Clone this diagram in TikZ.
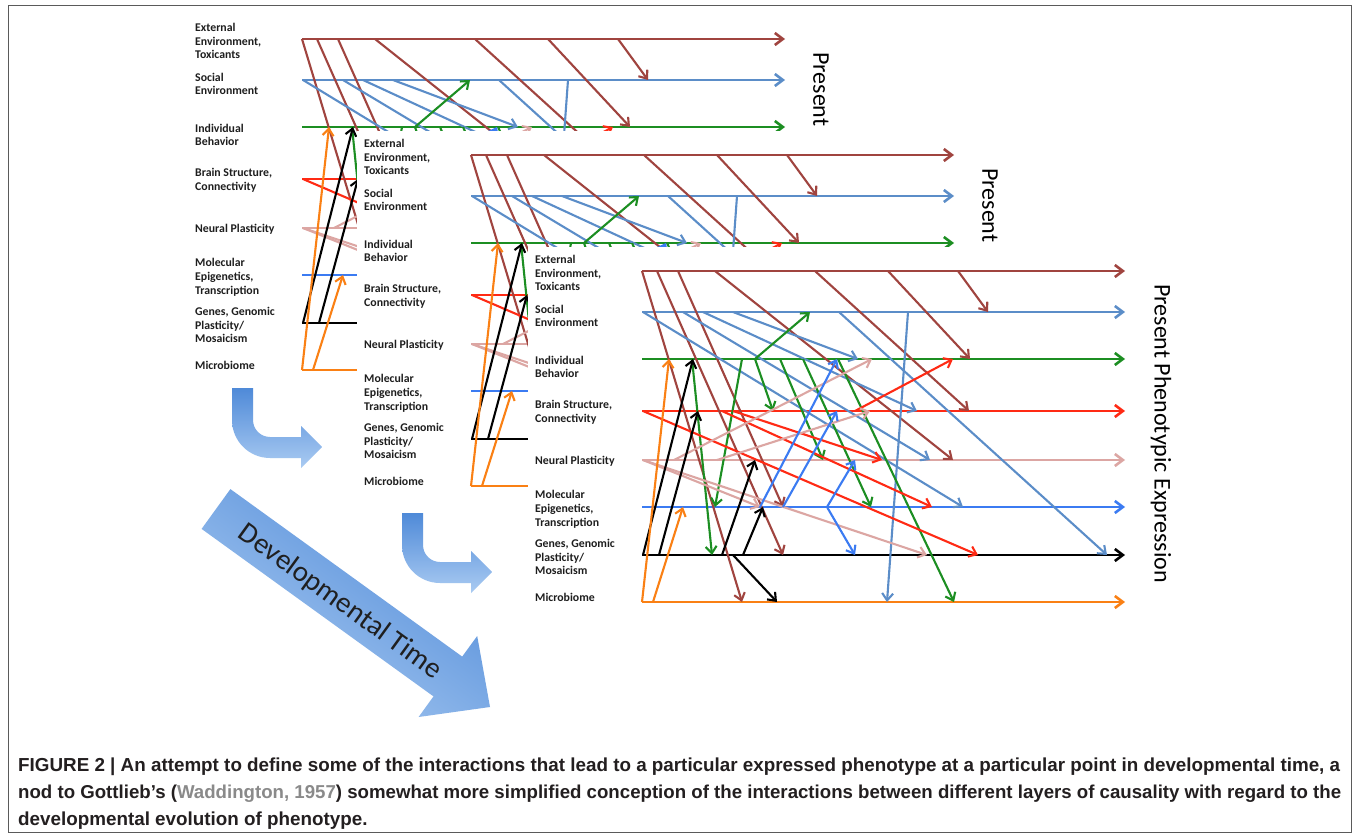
\documentclass[tikz,border=0pt]{standalone}
\usepackage{fontspec}
\setmainfont{Carlito}
\newfontfamily\capfam{Liberation Sans}
\usetikzlibrary{arrows.meta}
\newlength\capw
\newlength\capwb
\newcounter{lk}
\definecolor{cbrown}{HTML}{A0443F}
\definecolor{csoc}{HTML}{5B8DC8}
\definecolor{cgreen}{HTML}{1C8E22}
\definecolor{cred}{HTML}{FF2A14}
\definecolor{cpink}{HTML}{DCA6A3}
\definecolor{cmol}{HTML}{3B7BF2}
\definecolor{cblk}{HTML}{000000}
\definecolor{corange}{HTML}{FA8014}
\definecolor{arrA}{HTML}{4F8AD8}
\definecolor{arrB}{HTML}{AACBF2}
\definecolor{captxt}{HTML}{231F20}
\definecolor{capref}{HTML}{8A8A8A}
\definecolor{lbl}{HTML}{1E1E1E}
\definecolor{framec}{HTML}{5A5A5A}

\tikzset{
  rowline/.style={line width=2.6pt, -{Straight Barb[length=8pt,width=12pt]}},
  conn/.style={line width=2.1pt, -{Straight Barb[length=7pt,width=11pt]}},
  lab/.style={anchor=west, inner sep=0pt, align=left, text=lbl,
    font=\fontsize{11.8}{13.8}\selectfont\bfseries},
  pres/.style={anchor=west, rotate=-90, inner sep=0pt,
    font=\fontsize{24}{28}\selectfont},
  capline/.style={anchor=west, inner sep=0pt, text=captxt},
}

\newcommand\lnk[5]{\stepcounter{lk}%
  \coordinate (s\arabic{lk}) at (#2,#3);%
  \coordinate (e\arabic{lk}) at (#4,#5);%
  \draw[conn,#1] (s\arabic{lk}) -- (e\arabic{lk});}

\newcommand\trk[4]{% prefix, name, y, colour
  \coordinate (#1#2a) at (0,#3);%
  \coordinate (#1#2b) at (483,#3);%
  \draw[rowline,#4] (#1#2a) -- (#1#2b);}

\newcommand\panel[4]{%
\begin{scope}[shift={(#1,#2)}]
  \node[lab] (#3ext) at (-107,2) {External\\Environment,\\Toxicants};
  \node[lab] (#3soc) at (-107,45) {Social\\Environment};
  \node[lab] (#3ind) at (-107,96) {Individual\\Behavior};
  \node[lab] (#3brn) at (-107,141) {Brain Structure,\\Connectivity};
  \node[lab] (#3neu) at (-107,190) {Neural Plasticity};
  \node[lab] (#3mol) at (-107,238) {Molecular\\Epigenetics,\\Transcription};
  \node[lab] (#3gen) at (-107,286) {Genes, Genomic\\Plasticity/\\Mosaicism};
  \node[lab] (#3mic) at (-107,326) {Microbiome};
  \trk{#3}{r0}{0}{cbrown}
  \trk{#3}{r1}{41}{csoc}
  \trk{#3}{r2}{88}{cgreen}
  \trk{#3}{r3}{140}{cred}
  \trk{#3}{r4}{189}{cpink}
  \trk{#3}{r5}{236}{cmol}
  \trk{#3}{r6}{284}{cblk}
  \trk{#3}{r7}{331}{corange}
  % brown
  \lnk{cbrown}{0}{0}{100}{331}
  \lnk{cbrown}{15}{0}{141}{284}
  \lnk{cbrown}{36}{0}{141}{236}
  \lnk{cbrown}{73}{0}{311}{189}
  \lnk{cbrown}{173}{0}{327}{140}
  \lnk{cbrown}{246}{0}{328}{88}
  \lnk{cbrown}{316}{0}{346}{41}
  % social blue
  \lnk{csoc}{1}{41}{321}{236}
  \lnk{csoc}{41}{41}{288}{189}
  \lnk{csoc}{61}{41}{275}{140}
  \lnk{csoc}{91}{41}{216}{88}
  \lnk{csoc}{197}{41}{465}{284}
  \lnk{csoc}{266}{41}{245}{331}
  % green
  \lnk{cgreen}{113}{88}{168}{41}
  \lnk{cgreen}{50}{88}{70}{284}
  \lnk{cgreen}{100}{88}{73}{236}
  \lnk{cgreen}{113}{88}{131}{140}
  \lnk{cgreen}{138}{88}{181}{189}
  \lnk{cgreen}{161}{88}{229}{236}
  \lnk{cgreen}{196}{88}{312}{331}
  % red
  \lnk{cred}{1}{140}{336}{284}
  \lnk{cred}{91}{140}{240}{189}
  \lnk{cred}{80}{140}{290}{236}
  \lnk{cred}{213}{140}{311}{88}
  % pink
  \lnk{cpink}{1}{189}{118}{236}
  \lnk{cpink}{1}{189}{285}{284}
  \lnk{cpink}{32}{189}{230}{88}
  \lnk{cpink}{75}{189}{228}{140}
  % molecular blue
  \lnk{cmol}{118}{236}{195}{88}
  \lnk{cmol}{141}{236}{195}{140}
  \lnk{cmol}{185}{236}{213}{189}
  \lnk{cmol}{185}{236}{213}{284}
  % black
  \lnk{cblk}{1}{284}{51}{88}
  \lnk{cblk}{17}{284}{56}{140}
  \lnk{cblk}{80}{284}{113}{189}
  \lnk{cblk}{101}{284}{121}{236}
  \lnk{cblk}{91}{284}{135}{331}
  % orange
  \lnk{corange}{0}{331}{27}{88}
  \lnk{corange}{11}{331}{41}{236}
  \node[pres] (#3pres) at (519,13) {#4};
\end{scope}}

\newcommand\capfnt{\capfam\bfseries\fontsize{14}{16}\selectfont}
\newcommand\capone{FIGURE 2 | An attempt to define some of the interactions that lead to a particular expressed phenotype at a particular point in developmental time, a}
\newcommand\captwo{nod to Gottlieb’s ({\color{capref}Waddington, 1957}) somewhat more simplified conception of the interactions between different layers of causality with regard to the}

\begin{document}
\settowidth\capw{\capfnt\capone}%
\settowidth\capwb{\capfnt\captwo}%
\pgfmathsetmacro\capsx{1322/\capw}%
\pgfmathsetmacro\capsy{1323/\capwb}%
\begin{tikzpicture}[x=1pt,y=-1pt]
  \useasboundingbox (0,0) rectangle (1358,837);
  \fill[white] (0,0) rectangle (1358,837);

  \panel{302}{39}{A}{Present}
  \fill[white] (357,131) rectangle (1040,522);
  \panel{471}{155}{B}{Present}
  \fill[white] (528,247) rectangle (1210,640);
  \panel{642}{271}{C}{Present Phenotypic Expression}

  % curved arrows
  \shade[top color=arrA, bottom color=arrB]
    (232,388) -- (232,420) .. controls (232,441) and (249,458) .. (270,458)
    -- (301,458) -- (301,468) -- (322,447) -- (301,426) -- (301,437) -- (270,437)
    .. controls (260.6,437) and (253,429.4) .. (253,420) -- (253,388) -- cycle;
  \begin{scope}[shift={(170,125)}]
  \shade[top color=arrA, bottom color=arrB]
    (232,388) -- (232,420) .. controls (232,441) and (249,458) .. (270,458)
    -- (301,458) -- (301,468) -- (322,447) -- (301,426) -- (301,437) -- (270,437)
    .. controls (260.6,437) and (253,429.4) .. (253,420) -- (253,388) -- cycle;
  \end{scope}

  % big developmental time arrow
  \shade[top color=arrA, bottom color=arrB, shading angle=-36]
    (230.4,489.1) -- (462.2,656.6) -- (477.2,636.0) -- (490,707)
    -- (418.6,717.0) -- (433.5,696.4) -- (201.6,528.9) -- cycle;
  \node[rotate=-35.9, inner sep=0pt, text=black!88,
    font=\fontsize{29}{33}\selectfont] (devtime) at (340,602) {Developmental Time};

  % caption
  \node[capline] (cap1) at (18,767) {\scalebox{\capsx}{\capfnt\capone}};
  \node[capline] (cap2) at (18,794) {\scalebox{\capsy}{\capfnt\captwo}};
  \node[capline] (cap3) at (18,821) {\scalebox{\capsx}{\capfnt developmental evolution of phenotype.}};

  \draw[framec, line width=1pt] (8,6) rectangle (1351,832);
\end{tikzpicture}
\end{document}
